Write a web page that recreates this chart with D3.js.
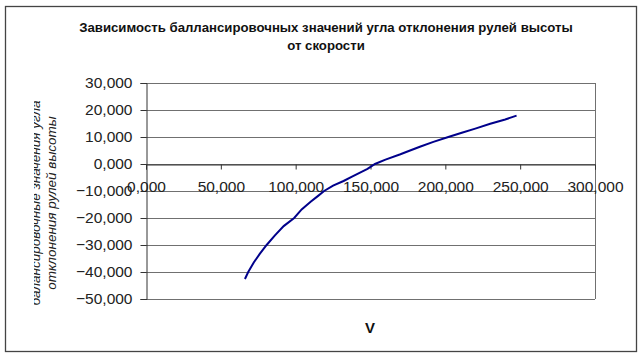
<!DOCTYPE html>
<html>
<head>
<meta charset="utf-8">
<script src="https://cdn.jsdelivr.net/npm/d3@7"></script>
<style>
  body { margin: 0; background: #fff; }
  text { font-family: "Liberation Sans", Arial, sans-serif; }
</style>
</head>
<body>
<div id="chart"></div>
<script>
// speed V and trim elevator deflection
const speed = [66.1, 68.3, 72, 76, 80.6, 86, 92, 99, 104, 110, 115, 119, 125, 132, 138, 144, 148, 153,
    160, 170, 176, 183, 192, 202, 211, 220, 230, 240, 247.6];
const deflection = [-42.6, -40, -36.5, -33.3, -30, -26.5, -23, -20, -16.8, -14, -11.8, -10, -8.0, -6.3, -4.6, -2.9, -1.8, 0,
    1.6, 3.6, 4.9, 6.4, 8.2, 10, 11.6, 13.1, 14.9, 16.5, 17.9];
const xTicks = [0, 50, 100, 150, 200, 250, 300];
const yTicks = [30, 20, 10, 0, -10, -20, -30, -40, -50];

const titleLines = ['Зависимость баллансировочных значений угла отклонения рулей высоты', 'от скорости'];
const yTitleLines = ['балансировочные значения угла', 'отклонения рулей высоты'];
const xTitle = 'V';

const width = 642, height = 358;
const plot = { left: 146, right: 595, top: 83, bottom: 299 };

const fmt = d => d3.format('.3f')(d).replace('.', ',').replace(/\B(?=(\d{3})+(?!\d))/, '');

const svg = d3.select('#chart')
    .append('svg')
    .attr('width', width)
    .attr('height', height);

// outer frame
svg.append('rect')
    .attr('x', 5.5).attr('y', 6.5)
    .attr('width', 631).attr('height', 345)
    .attr('fill', '#fff')
    .attr('stroke', '#444')
    .attr('stroke-width', 1.3);

const x = d3.scaleLinear().domain([0, 300]).range([plot.left, plot.right]);
const y = d3.scaleLinear().domain([-50, 30]).range([plot.bottom, plot.top]);

// gridlines
svg.append('g')
    .selectAll('line')
    .data(yTicks)
    .enter()
    .append('line')
    .attr('x1', plot.left).attr('x2', plot.right)
    .attr('y1', d => Math.round(y(d)) + 0.5).attr('y2', d => Math.round(y(d)) + 0.5)
    .attr('stroke', '#707070');

// right border of plot area
svg.append('line')
    .attr('x1', plot.right + 0.5).attr('x2', plot.right + 0.5)
    .attr('y1', plot.top).attr('y2', plot.bottom)
    .attr('stroke', '#707070');

// y axis
const yAxis = d3.axisLeft(y)
    .tickValues(yTicks)
    .tickSize(6)
    .tickPadding(8)
    .tickFormat(d => fmt(d));

svg.append('g')
    .attr('transform', `translate(${plot.left + 0.5},0)`)
    .call(yAxis)
    .call(g => g.select('.domain').attr('stroke', '#333'))
    .call(g => g.selectAll('.tick line').attr('stroke', '#333'))
    .call(g => g.selectAll('.tick text')
        .style('font-family', '"Liberation Sans", Arial, sans-serif')
        .style('font-size', '15.5px')
        .attr('fill', '#222'));

// x axis at zero
const xAxis = d3.axisBottom(x)
    .tickValues(xTicks)
    .tickSize(5)
    .tickPadding(11)
    .tickFormat(d => fmt(d));

svg.append('g')
    .attr('transform', `translate(0,${Math.round(y(0)) + 0.5})`)
    .call(xAxis)
    .call(g => g.select('.domain').attr('stroke', '#333'))
    .call(g => g.selectAll('.tick line').attr('stroke', '#333'))
    .call(g => g.selectAll('.tick text')
        .style('font-family', '"Liberation Sans", Arial, sans-serif')
        .style('font-size', '15.5px')
        .attr('fill', '#222'));

// curve
const line = d3.line()
    .x((d, i) => x(speed[i]))
    .y(d => y(d));

svg.append('path')
    .datum(deflection)
    .attr('d', line)
    .attr('fill', 'none')
    .attr('stroke', '#00008b')
    .attr('stroke-width', 2);

// title
svg.append('g')
    .selectAll('text')
    .data(titleLines)
    .enter()
    .append('text')
    .attr('x', 326)
    .attr('y', (d, i) => 32 + i * 18)
    .attr('text-anchor', 'middle')
    .style('font-size', '13.2px')
    .style('font-weight', 'bold')
    .attr('fill', '#111')
    .text(d => d);

// y axis title (first line clipped as in the picture)
svg.append('clipPath')
    .attr('id', 'yclip')
    .append('rect')
    .attr('x', 34).attr('y', 0)
    .attr('width', 100).attr('height', height);

svg.append('g')
    .attr('clip-path', 'url(#yclip)')
    .selectAll('text')
    .data(yTitleLines)
    .enter()
    .append('text')
    .attr('transform', (d, i) => `translate(${40 + i * 16},203) rotate(-90)`)
    .attr('text-anchor', 'middle')
    .style('font-size', '13.5px')
    .style('font-style', 'italic')
    .attr('fill', '#222')
    .text(d => d);

// x axis title
svg.append('text')
    .attr('x', 370)
    .attr('y', 333)
    .attr('text-anchor', 'middle')
    .style('font-size', '15px')
    .style('font-weight', 'bold')
    .attr('fill', '#111')
    .text(xTitle);
</script>
</body>
</html>
